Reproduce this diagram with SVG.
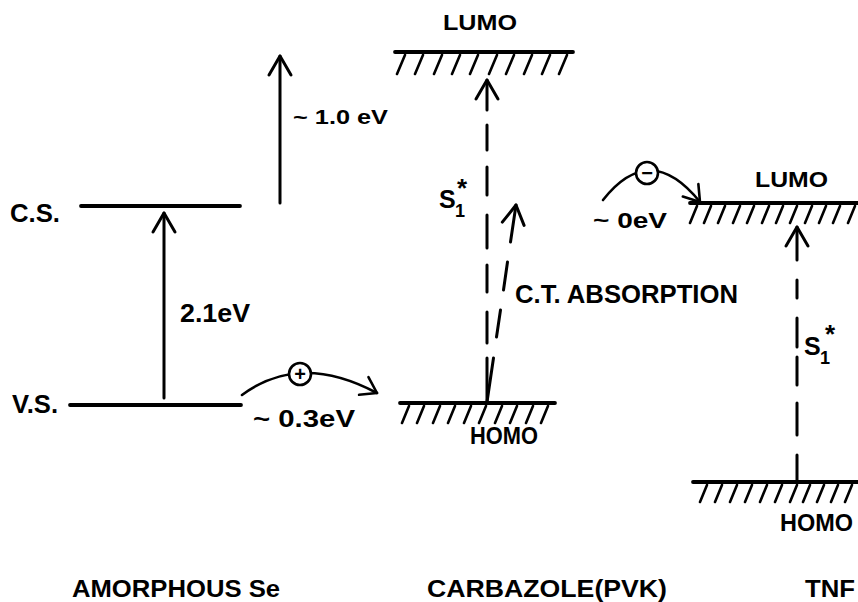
<svg xmlns="http://www.w3.org/2000/svg" width="858" height="602" viewBox="0 0 858 602">
<style>
text{font-family:"Liberation Sans",Arial,sans-serif;font-weight:bold;fill:#000}
.lvl{stroke:#000;stroke-width:3.8;stroke-linecap:round;fill:none}
.hatch{stroke:#000;stroke-width:2.6;stroke-linecap:round;fill:none}
.arr{stroke:#000;stroke-width:3;stroke-linecap:round;fill:none;marker-end:url(#head)}
.dash{stroke:#000;stroke-width:3;stroke-linecap:round;fill:none}
.hop{stroke:#000;stroke-width:2.6;stroke-linecap:round;fill:none;marker-end:url(#head2)}
.chg{fill:#fff;stroke:#000;stroke-width:2.6}
</style>
<defs>
<marker id="head" markerUnits="userSpaceOnUse" orient="auto" markerWidth="40" markerHeight="40" refX="20" refY="20" viewBox="0 0 40 40" overflow="visible">
<path d="M1,9 L20,20 L1,31" fill="none" stroke="#000" stroke-width="3" stroke-linecap="round" stroke-linejoin="round"/>
</marker>
<marker id="head2" markerUnits="userSpaceOnUse" orient="auto" markerWidth="40" markerHeight="40" refX="20" refY="20" viewBox="0 0 40 40" overflow="visible">
<path d="M5,10 L20,20 L5,30" fill="none" stroke="#000" stroke-width="2.6" stroke-linecap="round" stroke-linejoin="round"/>
</marker>
</defs>
<rect width="858" height="602" fill="#fff"/>

<g id="se-cs">
<line class="lvl" x1="81" y1="206" x2="240" y2="206"/>
<text x="10" y="222" font-size="26" textLength="50" lengthAdjust="spacingAndGlyphs">C.S.</text>
</g>
<g id="se-vs">
<line class="lvl" x1="70" y1="405" x2="241" y2="405"/>
<text x="12" y="413" font-size="26" textLength="46" lengthAdjust="spacingAndGlyphs">V.S.</text>
</g>

<g id="pvk-lumo">
<line class="lvl" x1="395" y1="52" x2="573" y2="52"/>
<path class="hatch" d="M405,55 l-8,19 M423,55 l-8,19 M442,55 l-8,19 M460,55 l-8,19 M478,55 l-8,19 M497,55 l-8,19 M514,55 l-8,19 M532,55 l-8,19 M550,55 l-8,19 M567,55 l-8,19"/>
<text x="443" y="30" font-size="22" textLength="74" lengthAdjust="spacingAndGlyphs">LUMO</text>
</g>
<g id="pvk-homo">
<line class="lvl" x1="400" y1="403" x2="555" y2="403"/>
<path class="hatch" d="M409,406 l-7,17 M424,406 l-7,17 M440,406 l-7,17 M455,406 l-7,17 M471,406 l-7,17 M486,406 l-7,17 M502,406 l-7,17 M517,406 l-7,17 M533,406 l-7,17 M548,406 l-7,17"/>
<text x="470" y="444" font-size="23" textLength="68" lengthAdjust="spacingAndGlyphs">HOMO</text>
</g>

<g id="tnf-lumo">
<line class="lvl" x1="690" y1="203" x2="858" y2="203"/>
<path class="hatch" d="M697,206 l-7,17 M711,206 l-7,17 M725,206 l-7,17 M740,206 l-7,17 M754,206 l-7,17 M769,206 l-7,17 M783,206 l-7,17 M797,206 l-7,17 M812,206 l-7,17 M826,206 l-7,17 M840,206 l-7,17 M855,206 l-7,17"/>
<text x="755" y="187" font-size="22" textLength="73" lengthAdjust="spacingAndGlyphs">LUMO</text>
</g>
<g id="tnf-homo">
<line class="lvl" x1="693" y1="482" x2="858" y2="482"/>
<path class="hatch" d="M707,485 l-7,17 M722,485 l-7,17 M737,485 l-7,17 M752,485 l-7,17 M767,485 l-7,17 M782,485 l-7,17 M797,485 l-7,17 M810,485 l-7,17 M824,485 l-7,17 M838,485 l-7,17 M852,485 l-7,17"/>
<text x="780" y="531" font-size="23" textLength="73" lengthAdjust="spacingAndGlyphs">HOMO</text>
</g>

<g id="connectors">
<path class="arr" d="M280,203 L280,56"/>
<path class="arr" d="M164,398 L164,213"/>
<path class="dash" d="M487,403 L487,358 M487,343 L487,312 M487,292 L487,265 M487,248 L487,215 M487,195 L487,167 M487,150 L487,125"/>
<path class="arr" d="M487,110 L487,80"/>
<path class="dash" d="M487,402 L493.5,358 M496.5,337 L500.5,310 M503.5,290 L507.5,262"/>
<path class="arr" d="M510.5,242 L516,205"/>
<path class="dash" d="M797,482 L797,455 M797,435 L797,403 M797,385 L797,357 M797,347 L797,318 M797,298 L797,280"/>
<path class="arr" d="M797,260 L797,227"/>
<path class="hop" d="M242,395 Q300,352 377,393"/>
<path class="hop" d="M603,200 Q650,140 700,202"/>
</g>

<g id="hole">
<circle class="chg" cx="300" cy="374" r="11"/>
<text x="300" y="381" font-size="20" text-anchor="middle">+</text>
</g>
<g id="electron">
<circle class="chg" cx="647" cy="173" r="11"/>
<text x="647" y="180" font-size="20" text-anchor="middle">−</text>
</g>

<g id="labels">
<text x="293" y="124" font-size="20" textLength="95" lengthAdjust="spacingAndGlyphs">~ 1.0 eV</text>
<text x="180" y="322" font-size="26" textLength="70" lengthAdjust="spacingAndGlyphs">2.1eV</text>
<text x="253" y="427" font-size="23" textLength="102" lengthAdjust="spacingAndGlyphs">~ 0.3eV</text>
<text x="593" y="228" font-size="22" textLength="74" lengthAdjust="spacingAndGlyphs">~ 0eV</text>
<text x="515" y="303" font-size="25" textLength="223" lengthAdjust="spacingAndGlyphs">C.T. ABSORPTION</text>
<text font-size="25"><tspan x="439" y="208">S</tspan><tspan x="455" y="217" font-size="18">1</tspan><tspan x="457" y="197" font-size="26">*</tspan></text>
<text font-size="25"><tspan x="804" y="355">S</tspan><tspan x="820" y="364" font-size="18">1</tspan><tspan x="825" y="343" font-size="26">*</tspan></text>
<text x="72" y="597" font-size="24" textLength="208" lengthAdjust="spacingAndGlyphs">AMORPHOUS Se</text>
<text x="427" y="597" font-size="24" textLength="240" lengthAdjust="spacingAndGlyphs">CARBAZOLE(PVK)</text>
<text x="805" y="597" font-size="24" textLength="50" lengthAdjust="spacingAndGlyphs">TNF</text>
</g>
</svg>
